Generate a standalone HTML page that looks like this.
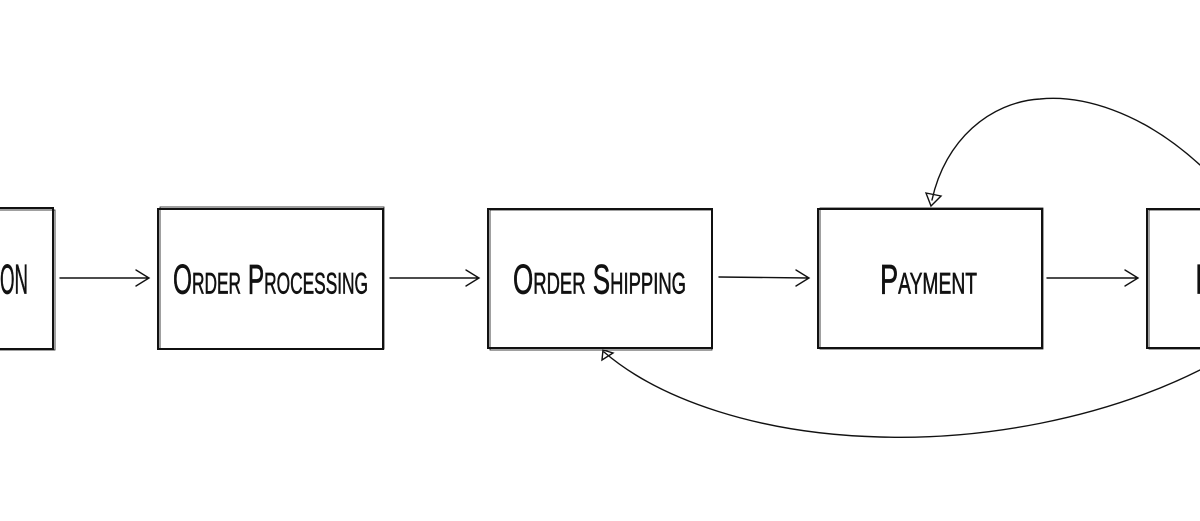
<!DOCTYPE html>
<html><head><meta charset="utf-8"><style>
html,body{margin:0;padding:0;background:#fff;width:1200px;height:521px;overflow:hidden}
svg text{font-family:"Liberation Sans",sans-serif;font-variant:small-caps;fill:#111;stroke:#111;stroke-width:0.6}
</style></head><body>
<svg width="1200" height="521" viewBox="0 0 1200 521" xmlns="http://www.w3.org/2000/svg">
<g fill="#fff" stroke="#111" stroke-width="2">
<rect x="-20" y="208" width="73" height="141"/>
<rect x="158" y="209" width="225" height="140"/>
<rect x="488" y="209" width="224" height="139"/>
<rect x="818" y="209" width="224" height="139"/>
<rect x="1147" y="209" width="80" height="139"/>
</g>
<g fill="none" stroke="#111" stroke-width="0.8">
<rect x="-19" y="210" width="74" height="140"/>
<rect x="160" y="207" width="224" height="142"/>
<rect x="490" y="210" width="222" height="140"/>
<rect x="820" y="208" width="223" height="141"/>
<rect x="1149" y="210" width="80" height="139"/>
</g>
<g font-size="40" transform="translate(0,-14) scale(1,1.05)">
<text x="0" y="293" textLength="28" lengthAdjust="spacingAndGlyphs">ON</text>
<text x="173" y="293" textLength="195" lengthAdjust="spacingAndGlyphs">Order Processing</text>
<text x="513" y="293" textLength="173" lengthAdjust="spacingAndGlyphs">Order Shipping</text>
<text x="880" y="293" textLength="97" lengthAdjust="spacingAndGlyphs">Payment</text>
<text x="1194" y="293">I</text>
</g>
<g fill="none" stroke="#111" stroke-width="1.4" stroke-linecap="round">
<path d="M60 278 L148 278 M136 270 L149 278 L136 286"/>
<path d="M390 278 L478 278 M466 270 L479 278 L466 286"/>
<path d="M719 277 L808 278 M796 270 L809 278 L796 286"/>
<path d="M1047 278 L1137 278 M1125 270 L1138 278 L1125 286"/>
<path d="M1200 165 C1140 110 1080 95 1040 99 C990 102 945 140 932 200"/>
<path d="M926 193 L931 206 L941 196 Z"/>
<path d="M1200 370 C1100 420 980 440 880 437 C760 434 660 400 604 352"/>
<path d="M602 360 L603 350 L613 353 Z"/>
</g>
</svg>
</body></html>
